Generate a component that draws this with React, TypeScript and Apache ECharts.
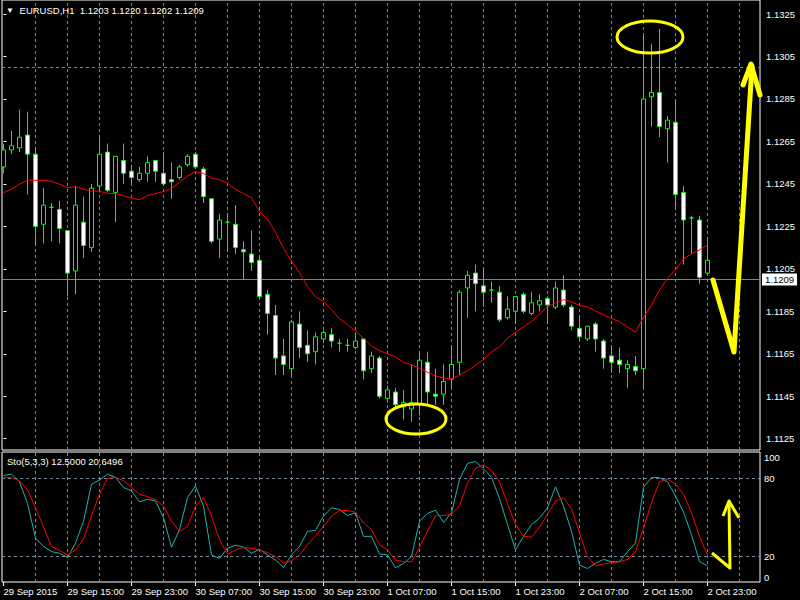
import React, { useEffect, useRef } from "react";
import * as echarts from "echarts";

// ---- data (EURUSD, H1, 29 Sep 2015 07:00 .. 2 Oct 2015 23:00) ----
const tickLabels = [
  "29 Sep 2015", "29 Sep 15:00", "29 Sep 23:00", "30 Sep 07:00", "30 Sep 15:00", "30 Sep 23:00",
  "1 Oct 07:00", "1 Oct 15:00", "1 Oct 23:00", "2 Oct 07:00", "2 Oct 15:00", "2 Oct 23:00",
];
const barsPerLabel = 8;
const barsPerGrid = 4;
const priceTicks = [1.1125, 1.1145, 1.1165, 1.1185, 1.1205, 1.1225, 1.1245, 1.1265, 1.1285, 1.1305, 1.1325];
const lastPrice = 1.1209;

const open = [
  1.1253, 1.1261, 1.1262, 1.1268, 1.1259, 1.1226, 1.1234, 1.1233, 1.1223, 1.1204,
  1.1227, 1.1215, 1.1244, 1.126, 1.1241, 1.1256, 1.1251, 1.1247, 1.125, 1.1256,
  1.125, 1.1247, 1.1248, 1.1254, 1.1259, 1.1252, 1.1238, 1.1219, 1.1227, 1.1226,
  1.1214, 1.1212, 1.1209, 1.1193, 1.1183, 1.1164, 1.1158, 1.1179, 1.1169, 1.1166,
  1.1172, 1.1174, 1.117, 1.1169, 1.1168, 1.1172, 1.1158, 1.1163, 1.1144, 1.1147,
  1.114, 1.1139, 1.1141, 1.1161, 1.1146, 1.1146, 1.1153, 1.1161, 1.1196, 1.1203,
  1.1197, 1.1195, 1.1194, 1.1182, 1.1185, 1.1193, 1.1184, 1.1188, 1.1191, 1.1187,
  1.1195, 1.1187, 1.1177, 1.1172, 1.1179, 1.1171, 1.1164, 1.1162, 1.1158, 1.1159,
  1.1158, 1.1286, 1.1288, 1.1271, 1.1274, 1.1241, 1.1229, 1.1228, 1.1203,
];
const high = [
  1.1264, 1.127, 1.128, 1.1279, 1.1262, 1.1243, 1.1236, 1.1237, 1.1223, 1.1244,
  1.1239, 1.1245, 1.1268, 1.1264, 1.1258, 1.1264, 1.1254, 1.1253, 1.1258, 1.1256,
  1.126, 1.1255, 1.1254, 1.1259, 1.126, 1.1253, 1.1238, 1.1231, 1.1231, 1.1235,
  1.1218, 1.1223, 1.1211, 1.1195, 1.1188, 1.1172, 1.1181, 1.1185, 1.1176, 1.1175,
  1.1176, 1.1177, 1.1172, 1.1172, 1.1175, 1.1172, 1.1166, 1.1164, 1.115, 1.1149,
  1.1148, 1.116, 1.1166, 1.1166, 1.1158, 1.116, 1.1169, 1.1195, 1.1204, 1.1207,
  1.1205, 1.1199, 1.1197, 1.1192, 1.1192, 1.1194, 1.1194, 1.1193, 1.1192, 1.1199,
  1.1202, 1.1188, 1.1183, 1.1178, 1.118, 1.1172, 1.1169, 1.1168, 1.1162, 1.1164,
  1.1315, 1.1311, 1.1318, 1.1277, 1.1284, 1.1244, 1.123, 1.123, 1.122,
];
const low = [
  1.125, 1.1259, 1.126, 1.124, 1.1216, 1.1217, 1.1218, 1.1217, 1.1192, 1.1193,
  1.121, 1.1213, 1.1241, 1.1241, 1.1227, 1.1245, 1.1245, 1.1246, 1.1246, 1.1246,
  1.1244, 1.1238, 1.1247, 1.1253, 1.1252, 1.1236, 1.1217, 1.121, 1.1213, 1.1212,
  1.12, 1.1204, 1.1191, 1.1174, 1.1155, 1.1155, 1.1155, 1.1163, 1.1161, 1.116,
  1.117, 1.1168, 1.1166, 1.1166, 1.1167, 1.1153, 1.1156, 1.1144, 1.1142, 1.114,
  1.1134, 1.1133, 1.1136, 1.1141, 1.1141, 1.1141, 1.1149, 1.1155, 1.1182, 1.1185,
  1.1187, 1.1189, 1.118, 1.1181, 1.1179, 1.1184, 1.1183, 1.1185, 1.1179, 1.1186,
  1.1187, 1.1176, 1.1172, 1.1171, 1.1166, 1.1158, 1.1156, 1.1156, 1.1149, 1.1155,
  1.1149, 1.1272, 1.1267, 1.1255, 1.1233, 1.1207, 1.1212, 1.1198, 1.1202,
];
const close = [
  1.1261, 1.1263, 1.1267, 1.1259, 1.1225, 1.1235, 1.1234, 1.1224, 1.1203, 1.1235,
  1.1216, 1.1243, 1.1259, 1.1242, 1.1258, 1.125, 1.1248, 1.125, 1.1255, 1.1251,
  1.1245, 1.1246, 1.1253, 1.1258, 1.1253, 1.1239, 1.1218, 1.1228, 1.1227, 1.1215,
  1.1213, 1.1208, 1.1192, 1.1184, 1.1163, 1.116, 1.118, 1.1168, 1.1165, 1.1173,
  1.1175, 1.1171, 1.117, 1.1169, 1.1171, 1.1157, 1.1164, 1.1145, 1.1148, 1.1141,
  1.1142, 1.1142, 1.1162, 1.1147, 1.1145, 1.1152, 1.116, 1.1194, 1.1202, 1.1198,
  1.1194, 1.1195, 1.1181, 1.1186, 1.1192, 1.1185, 1.1189, 1.119, 1.1188, 1.1196,
  1.1188, 1.1178, 1.1173, 1.1178, 1.1172, 1.1163, 1.1161, 1.116, 1.116, 1.1157,
  1.1285, 1.1288, 1.1272, 1.1275, 1.124, 1.1228, 1.1229, 1.1201, 1.1209,
];
const movingAverage = [
  1.12408, 1.12425, 1.12449, 1.12467, 1.12467, 1.12467, 1.12462, 1.12449, 1.12432, 1.12437,
  1.12425, 1.12416, 1.12416, 1.12405, 1.12405, 1.12395, 1.12383, 1.12376, 1.12395, 1.12404,
  1.12414, 1.12428, 1.12459, 1.12487, 1.12507, 1.12499, 1.12477, 1.12469, 1.12454, 1.12425,
  1.12404, 1.12385, 1.12320, 1.12283, 1.12222, 1.12147, 1.12086, 1.12032, 1.11966, 1.11918,
  1.11897, 1.11857, 1.11816, 1.11786, 1.11757, 1.11724, 1.11686, 1.11665, 1.1165, 1.11636,
  1.1161, 1.11598, 1.11582, 1.11563, 1.11546, 1.11537, 1.11531, 1.11549, 1.1157, 1.11596,
  1.11624, 1.1166, 1.11681, 1.11724, 1.11752, 1.11778, 1.11802, 1.11838, 1.11871, 1.1189,
  1.11905, 1.11895, 1.11877, 1.11871, 1.11852, 1.11833, 1.11816, 1.11802, 1.11776, 1.11752,
  1.11823, 1.1188, 1.1195, 1.12006, 1.12046, 1.12096, 1.12122, 1.12139, 1.12163,
];
const stochMain = [
  81.8, 83.1, 77.1, 60.5, 33.8, 27.3, 23.4, 22.1, 19.0, 29.9,
  46.8, 75.3, 78.4, 82.9, 80.5, 72.7, 70.1, 61.6, 63.6, 62.3,
  49.4, 26.8, 40.3, 64.9, 74.0, 58.4, 20.8, 18.2, 26.0, 28.3,
  26.8, 22.1, 25.2, 20.8, 16.9, 11.2, 20.8, 27.3, 39.0, 39.7,
  50.6, 57.1, 55.8, 51.2, 53.2, 35.1, 35.1, 21.6, 20.8, 10.9,
  14.3, 19.5, 46.8, 52.7, 55.3, 45.9, 53.2, 78.7, 91.2, 92.7,
  87.0, 80.5, 64.1, 44.2, 24.7, 35.1, 44.2, 49.1, 57.1, 73.2,
  58.4, 39.0, 13.0, 10.4, 14.3, 17.4, 15.6, 15.6, 23.4, 29.9,
  72.7, 80.3, 80.3, 77.1, 66.2, 53.8, 36.4, 15.6, 12.5,
];
const stochSignal = [
  80.5, 80.5, 77.9, 70.9, 57.1, 42.3, 27.3, 24.2, 20.8, 24.7,
  33.0, 51.2, 67.5, 79.7, 80.5, 77.9, 72.7, 67.5, 65.7, 63.1,
  58.4, 46.7, 38.9, 42.8, 58.4, 64.9, 50.6, 32.4, 21.6, 24.7,
  26.5, 26.0, 24.7, 22.6, 19.5, 14.8, 16.4, 20.8, 28.6, 35.6,
  42.8, 50.6, 55.0, 55.0, 53.7, 45.4, 40.2, 28.6, 24.7, 16.9,
  15.6, 15.6, 26.8, 39.0, 51.2, 51.2, 52.0, 58.7, 76.1, 87.5,
  90.1, 85.7, 77.1, 60.3, 44.2, 35.1, 34.5, 42.3, 52.0, 62.3,
  64.9, 56.4, 37.7, 19.5, 12.5, 13.8, 14.8, 15.6, 17.4, 23.4,
  41.6, 61.1, 77.1, 79.2, 75.3, 67.5, 53.2, 35.1, 20.6496,
];
const stochLevels = [20, 80];

const FONT = "'Liberation Sans', Arial, sans-serif";
const FS = 9.5;
const GRID_COLOR = "#778899";

export default function App() {
  const ref = useRef<HTMLDivElement>(null);

  useEffect(() => {
    if (!ref.current) return;
    const chart = echarts.init(ref.current, null, { renderer: "svg" });

    const n = open.length;
    const xMin = -0.1875;
    const xMax = 94.5625;
    const yMin = 1.11197;
    const yMax = 1.13316;

    const labelIdx = tickLabels.map((_, k) => k * barsPerLabel);
    const gridIdx: number[] = [];
    for (let i = barsPerGrid; i <= xMax; i += barsPerGrid) gridIdx.push(i);

    const candleData = open.map((o, i) => [i, o, close[i], low[i], high[i]]);
    const maData = movingAverage.map((v, i) => [i, v]);
    const kData = stochMain.map((v, i) => [i, v]);
    const dData = stochSignal.map((v, i) => [i, v]);

    const dashed = { color: GRID_COLOR, type: [3, 3] as any, width: 1 };
    const vLines = gridIdx.map((i) => ({ xAxis: i }));

    const labelFor = (v: number) => {
      const k = Math.round(v);
      if (Math.abs(v - k) > 1e-6 || k % barsPerLabel !== 0) return "";
      return tickLabels[k / barsPerLabel] ?? "";
    };

    const option: any = {
      animation: false,
      backgroundColor: "#000000",
      title: [
        {
          text: "{t|▼} EURUSD,H1  1.1203 1.1220 1.1202 1.1209",
          left: 6,
          top: 5,
          padding: 0,
          textStyle: {
            color: "#ffffff",
            fontSize: FS,
            fontWeight: "normal",
            fontFamily: FONT,
            rich: { t: { fontSize: 8, color: "#ffffff", padding: [0, 3, 0, 0] } },
          },
        },
        {
          text: "Sto(5,3,3) 12.5000 20.6496",
          left: 7,
          top: 456,
          padding: 0,
          textStyle: { color: "#ffffff", fontSize: FS, fontWeight: "normal", fontFamily: FONT },
        },
      ],
      grid: [
        { left: 2, top: 0, width: 758, height: 450, show: true, borderColor: "#ffffff", borderWidth: 1, backgroundColor: "#000000" },
        { left: 2, top: 452, width: 758, height: 130, show: true, borderColor: "#ffffff", borderWidth: 1, backgroundColor: "#000000" },
      ],
      xAxis: [
        { gridIndex: 0, type: "value", min: xMin, max: xMax, show: false },
        {
          gridIndex: 1,
          type: "value",
          min: xMin,
          max: xMax,
          axisLine: { show: false },
          splitLine: { show: false },
          axisTick: { show: true, customValues: labelIdx, length: 4, lineStyle: { color: "#ffffff" } },
          axisLabel: {
            customValues: labelIdx,
            formatter: labelFor,
            align: "left",
            color: "#ffffff",
            fontSize: FS,
            fontFamily: FONT,
            margin: 4,
            showMinLabel: true,
            showMaxLabel: true,
          },
        },
      ],
      yAxis: [
        {
          gridIndex: 0,
          type: "value",
          position: "right",
          min: yMin,
          max: yMax,
          splitLine: { show: false },
          axisLine: { show: false },
          axisTick: { show: true, customValues: priceTicks, length: 3, lineStyle: { color: "#ffffff" } },
          axisLabel: {
            customValues: priceTicks,
            formatter: (v: number) => (priceTicks.some((t) => Math.abs(t - v) < 1e-7) ? v.toFixed(4) : ""),
            color: "#ffffff",
            fontSize: FS,
            fontFamily: FONT,
            margin: 6,
          },
        },
        {
          gridIndex: 1,
          type: "value",
          position: "right",
          min: 0,
          max: 100,
          interval: 20,
          splitLine: { show: false },
          axisLine: { show: false },
          axisTick: { show: false },
          axisLabel: {
            formatter: (v: number) => (v === 0 || v === 100 || stochLevels.includes(v) ? String(v) : ""),
            color: "#ffffff",
            fontSize: FS,
            fontFamily: FONT,
            margin: 4,
            showMinLabel: true,
            showMaxLabel: true,
            verticalAlignMinLabel: "bottom",
            verticalAlignMaxLabel: "top",
          },
        },
      ],
      series: [
        {
          type: "candlestick",
          name: "EURUSD,H1",
          xAxisIndex: 0,
          yAxisIndex: 0,
          z: 3,
          barWidth: 4,
          data: candleData,
          itemStyle: {
            color: "#000000",
            color0: "#ffffff",
            borderColor: "#00ff00",
            borderColor0: "#00ff00",
            borderColorDoji: "#00ff00",
            borderWidth: 1,
          },
          markLine: {
            silent: true,
            symbol: "none",
            z: 1,
            animation: false,
            label: { show: false },
            lineStyle: dashed,
            data: [
              ...priceTicks.map((p) => ({ yAxis: p })),
              ...vLines,
              {
                yAxis: lastPrice,
                lineStyle: { color: GRID_COLOR, type: "solid", width: 1 },
                label: {
                  show: true,
                  position: "end",
                  distance: 2,
                  formatter: lastPrice.toFixed(4),
                  backgroundColor: "#ffffff",
                  color: "#000000",
                  padding: [1, 3, 1, 3],
                  fontSize: FS,
                  fontFamily: FONT,
                },
              },
            ],
          },
        },
        {
          type: "line",
          name: "MA",
          xAxisIndex: 0,
          yAxisIndex: 0,
          z: 4,
          data: maData,
          showSymbol: false,
          symbol: "none",
          lineStyle: { color: "#ff0000", width: 1 },
        },
        {
          type: "line",
          name: "Sto main",
          xAxisIndex: 1,
          yAxisIndex: 1,
          z: 3,
          data: kData,
          showSymbol: false,
          symbol: "none",
          lineStyle: { color: "#20b2aa", width: 1 },
          markLine: {
            silent: true,
            symbol: "none",
            z: 1,
            animation: false,
            label: { show: false },
            lineStyle: dashed,
            data: [...stochLevels.map((v) => ({ yAxis: v })), ...vLines],
          },
        },
        {
          type: "line",
          name: "Sto signal",
          xAxisIndex: 1,
          yAxisIndex: 1,
          z: 4,
          data: dData,
          showSymbol: false,
          symbol: "none",
          lineStyle: { color: "#ff0000", width: 1 },
        },
      ],
      graphic: [
        { type: "ellipse", z: 100, shape: { cx: 650, cy: 37, rx: 33, ry: 16 }, style: { fill: null, stroke: "#ffff00", lineWidth: 3 } },
        { type: "ellipse", z: 100, shape: { cx: 416, cy: 419, rx: 30, ry: 15 }, style: { fill: null, stroke: "#ffff00", lineWidth: 3 } },
        { type: "polyline", z: 100, shape: { points: [[713, 280], [734, 352], [752, 66]] }, style: { fill: null, stroke: "#ffff00", lineWidth: 5, lineJoin: "round", lineCap: "round" } },
        { type: "polyline", z: 100, shape: { points: [[743, 85], [751, 64], [760, 95]] }, style: { fill: null, stroke: "#ffff00", lineWidth: 5, lineJoin: "round", lineCap: "round" } },
        { type: "polyline", z: 100, shape: { points: [[712, 553], [730, 568], [729, 503]] }, style: { fill: null, stroke: "#ffff00", lineWidth: 3, lineJoin: "round" } },
        { type: "polyline", z: 100, shape: { points: [[723, 516], [729, 501], [739, 518]] }, style: { fill: null, stroke: "#ffff00", lineWidth: 3, lineJoin: "round" } },
      ],
    };

    chart.setOption(option);
    return () => chart.dispose();
  }, []);

  return (
    <div
      ref={ref}
      style={{ position: "fixed", left: 0, top: 0, width: 800, height: 600, background: "#000000" }}
    />
  );
}
